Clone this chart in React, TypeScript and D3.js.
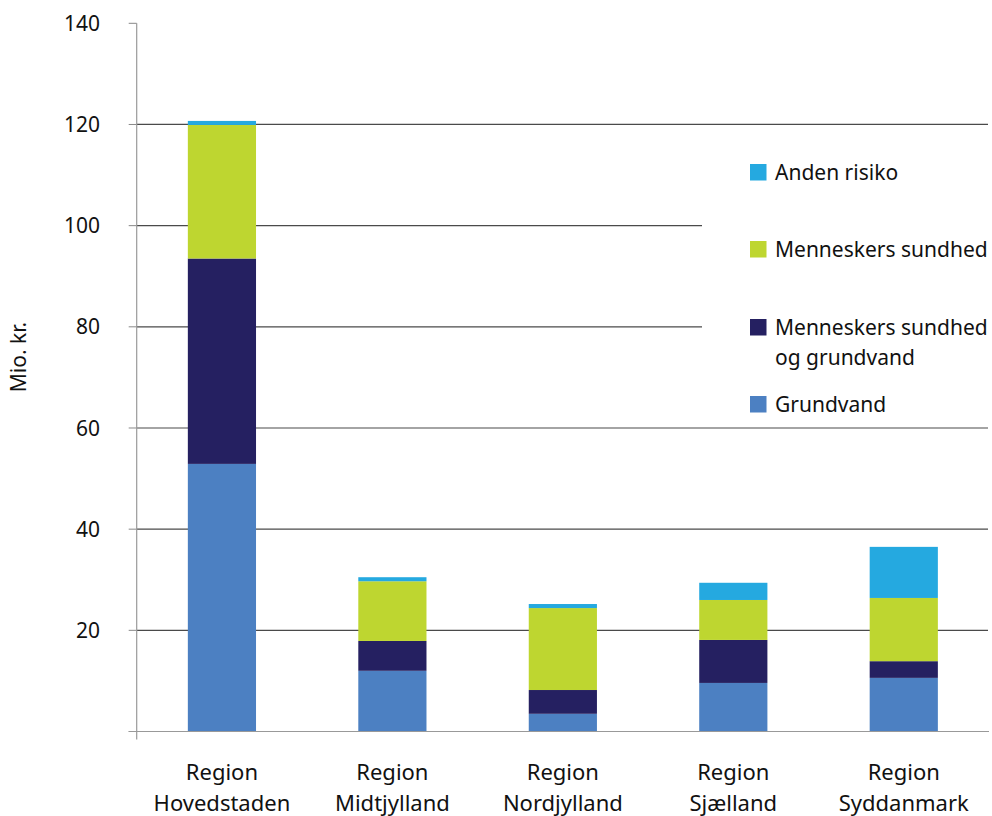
import React from "react";
import * as d3 from "d3";

const categories = [
  ["Region", "Hovedstaden"],
  ["Region", "Midtjylland"],
  ["Region", "Nordjylland"],
  ["Region", "Sjælland"],
  ["Region", "Syddanmark"],
];
const seriesNames = ["Grundvand", "Menneskers sundhed og grundvand", "Menneskers sundhed", "Anden risiko"];
const grundvand = [52.9, 12.0, 3.5, 9.6, 10.6];
const sundhedGrundvand = [40.6, 5.9, 4.7, 8.5, 3.3];
const sundhed = [26.4, 11.8, 16.2, 7.9, 12.5];
const andenRisiko = [0.8, 0.8, 0.8, 3.4, 10.1];
const yTicks = [0, 20, 40, 60, 80, 100, 120, 140];
const colors = ["#4c80c2", "#252061", "#bed630", "#25a9e0"];

const legendItems = [
  { idx: 3, lines: ["Anden risiko"], y: 172 },
  { idx: 2, lines: ["Menneskers sundhed"], y: 249 },
  { idx: 1, lines: ["Menneskers sundhed", "og grundvand"], y: 327 },
  { idx: 0, lines: ["Grundvand"], y: 404 },
];

const W = 992;
const H = 816;
const FONT = "'Noto Sans', sans-serif";

export default function App() {
  const x0 = 136.7;
  const x1 = 989;
  const yTop = 23.3;
  const yBase = 731.5;
  const y = d3.scaleLinear().domain([0, 140]).range([yBase, yTop]);
  const x = d3
    .scaleBand<number>()
    .domain(categories.map((_, i) => i))
    .range([x0, x1])
    .paddingInner(0.6)
    .paddingOuter(0.3);

  const rows = categories.map((_, i) => ({
    i,
    s0: grundvand[i],
    s1: sundhedGrundvand[i],
    s2: sundhed[i],
    s3: andenRisiko[i],
  }));
  const stack = d3.stack<any>().keys(["s0", "s1", "s2", "s3"]);
  const layers = stack(rows);

  return (
    <svg width={W} height={H} style={{ position: "absolute", left: 0, top: 0, background: "#fff" }} fontFamily={FONT}>
      <rect x={0} y={0} width={W} height={H} fill="#fff" />
      {/* gridlines */}
      {yTicks.slice(1, -1).map((t) => (
        <line key={"g" + t} x1={x0} x2={x1 - 1} y1={y(t)} y2={y(t)} stroke="#4a4a4a" strokeWidth={1.2} />
      ))}
      {/* ticks */}
      {yTicks.map((t) => (
        <line key={"t" + t} x1={x0 - 8} x2={x0} y1={y(t)} y2={y(t)} stroke="#888" strokeWidth={1} />
      ))}
      {/* tick labels */}
      {yTicks.slice(1).map((t) => (
        <text key={"l" + t} x={100} y={y(t)} dy="0.36em" textAnchor="end" fontSize={21} fill="#111">
          {t}
        </text>
      ))}
      {/* legend background */}
      <rect x={702} y={136} width={290} height={282} fill="#fff" />
      {/* bars */}
      {layers.map((layer, li) =>
        layer.map((d, i) => (
          <rect
            key={li + "-" + i}
            x={x(i)}
            width={x.bandwidth()}
            y={y(d[1])}
            height={y(d[0]) - y(d[1])}
            fill={colors[li]}
          />
        ))
      )}
      {/* axes */}
      <line x1={x0} x2={x0} y1={yTop} y2={yBase + 8} stroke="#999" strokeWidth={1.2} />
      <line x1={x0 - 8} x2={x1} y1={yBase} y2={yBase} stroke="#999" strokeWidth={1.2} />
      {/* x labels */}
      {categories.map((c, i) => (
        <text key={"x" + i} x={(x(i) as number) + x.bandwidth() / 2} textAnchor="middle" fontSize={22} fill="#111">
          <tspan x={(x(i) as number) + x.bandwidth() / 2} y={780}>{c[0]}</tspan>
          <tspan x={(x(i) as number) + x.bandwidth() / 2} y={811}>{c[1]}</tspan>
        </text>
      ))}
      {/* y label */}
      <text transform={`translate(26,357) rotate(-90)`} textAnchor="middle" fontSize={21} fill="#111">
        Mio. kr.
      </text>
      {/* legend */}
      {legendItems.map((it) => (
        <g key={"lg" + it.idx}>
          <rect x={750} y={it.y - 8} width={16.5} height={16.5} fill={colors[it.idx]} />
          {it.lines.map((ln, k) => (
            <text key={k} x={775} y={it.y + k * 30} dy="0.36em" fontSize={21} fill="#111">
              {ln}
            </text>
          ))}
        </g>
      ))}
    </svg>
  );
}
